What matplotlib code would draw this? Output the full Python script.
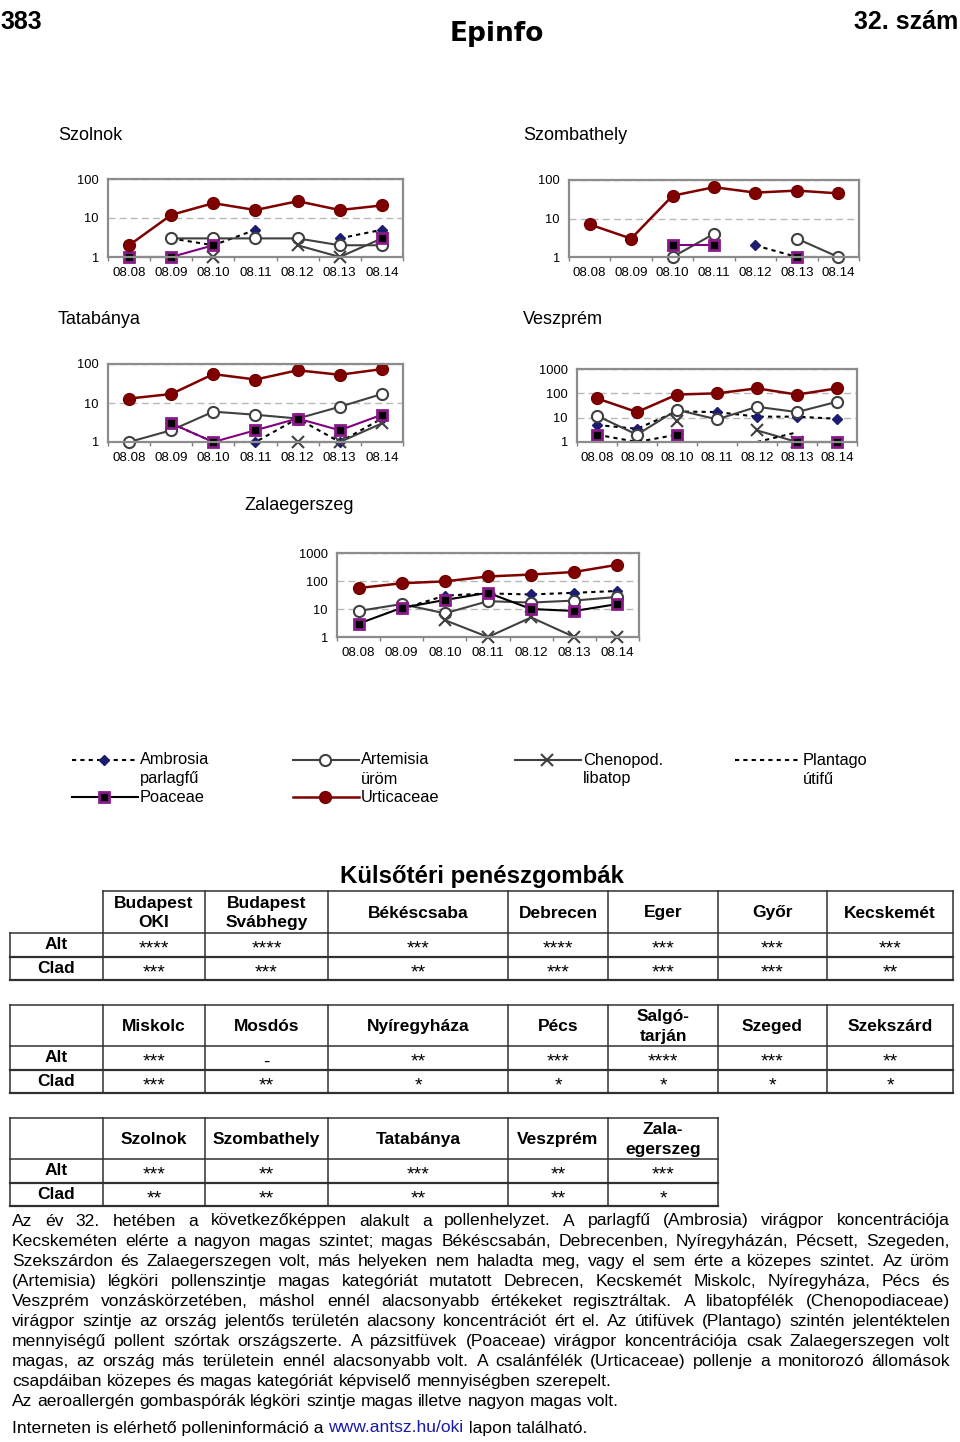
import numpy as np
import matplotlib
matplotlib.use('Agg')
import matplotlib.pyplot as plt
from matplotlib.ticker import NullLocator, FixedLocator

plt.rcParams['font.family'] = ['Liberation Sans', 'DejaVu Sans']

W, H = 960, 1442
nan = np.nan

# ---- data -------------------------------------------------------------
dates = ['08.08', '08.09', '08.10', '08.11', '08.12', '08.13', '08.14']
stations = ['Szolnok', 'Szombathely', 'Tatabánya', 'Veszprém', 'Zalaegerszeg']
taxa = ['Ambrosia', 'Artemisia', 'Chenopod', 'Plantago', 'Poaceae', 'Urticaceae']

# one row per station, in the order of `stations` (nan = no value)
ambrosia = [
    [nan, 3, 2, 5, nan, 3, 5],
    [nan, nan, nan, nan, 2, 1, 1],
    [nan, 3, 1, 1, 4, 1, 4],
    [5, 3.5, 18, 17, 11, 11, 9],
    [nan, 10, 30, 36, 33, 38, 44],
]
artemisia = [
    [nan, 3, 3, 3, 3, 2, 2],
    [nan, nan, 1, 4, nan, 3, 1],
    [1, 2, 6, 5, 4, 8, 17],
    [12, 2, 21, 8.5, 28, 17, 45],
    [8.5, 15, 7, 19, 17, 20, 27],
]
chenopod = [
    [nan, nan, 1, nan, 2, 1, 3],
    [nan] * 7,
    [nan, nan, nan, nan, 1, 1, 3],
    [nan, nan, 7, nan, 3, 1, nan],
    [nan, nan, 4, 1, 5, 1, 1],
]
plantago = [
    [nan] * 7,
    [nan] * 7,
    [nan] * 7,
    [2, 1, 2, nan, 1, 2.5, nan],
    [nan] * 7,
]
poaceae = [
    [1, 1, 2, nan, nan, nan, 3],
    [nan, nan, 2, 2, nan, 1, nan],
    [nan, 3, 1, 2, 4, 2, 5],
    [2, nan, 2, nan, nan, 1, 1],
    [3, 11, 21, 38, 10, 8.5, 15],
]
urticaceae = [
    [2, 12, 24, 16, 27, 16, 21],
    [7, 3, 39, 65, 47, 53, 45],
    [13, 17, 55, 40, 69, 53, 74],
    [62, 17, 89, 100, 160, 89, 160],
    [56, 83, 97, 145, 170, 210, 380],
]
series = dict(zip(taxa, [ambrosia, artemisia, chenopod, plantago, poaceae, urticaceae]))

legend_names = ['Ambrosia', 'Artemisia', 'Chenopod.', 'Plantago', 'Poaceae', 'Urticaceae']
legend_hu = ['parlagfű', 'üröm', 'libatop', 'útifű', '', '']

table1_cols = ['Budapest\nOKI', 'Budapest\nSvábhegy', 'Békéscsaba', 'Debrecen', 'Eger', 'Győr', 'Kecskemét']
table1_alt = ['****', '****', '***', '****', '***', '***', '***']
table1_clad = ['***', '***', '**', '***', '***', '***', '**']
table2_cols = ['Miskolc', 'Mosdós', 'Nyíregyháza', 'Pécs', 'Salgó-\ntarján', 'Szeged', 'Szekszárd']
table2_alt = ['***', '-', '**', '***', '****', '***', '**']
table2_clad = ['***', '**', '*', '*', '*', '*', '*']
table3_cols = ['Szolnok', 'Szombathely', 'Tatabánya', 'Veszprém', 'Zala-\negerszeg']
table3_alt = ['***', '**', '***', '**', '***']
table3_clad = ['**', '**', '**', '**', '*']

paragraph = [
    ("Az év 32. hetében a következőképpen alakult a pollenhelyzet. A parlagfű (Ambrosia) virágpor koncentrációja", True),
    ("Kecskeméten elérte a nagyon magas szintet; magas Békéscsabán, Debrecenben, Nyíregyházán, Pécsett, Szegeden,", True),
    ("Szekszárdon és Zalaegerszegen volt, más helyeken nem haladta meg, vagy el sem érte a közepes szintet. Az üröm", True),
    ("(Artemisia) légköri pollenszintje magas kategóriát mutatott Debrecen, Kecskemét Miskolc, Nyíregyháza, Pécs és", True),
    ("Veszprém vonzáskörzetében, máshol ennél alacsonyabb értékeket regisztráltak. A libatopfélék (Chenopodiaceae)", True),
    ("virágpor szintje az ország jelentős területén alacsony koncentrációt ért el. Az útifüvek (Plantago) szintén jelentéktelen", True),
    ("mennyiségű pollent szórtak országszerte. A pázsitfüvek (Poaceae) virágpor koncentrációja csak Zalaegerszegen volt", True),
    ("magas, az ország más területein ennél alacsonyabb volt. A csalánfélék (Urticaceae) pollenje a monitorozó állomások", True),
    ("csapdáiban közepes és magas kategóriát képviselő mennyiségben szerepelt.", False),
    ("Az aeroallergén gombaspórák légköri szintje magas illetve nagyon magas volt.", False),
]

# ---- styles / layout ---------------------------------------------------
DOT = (0, (2, 2))
styles = {
    'Ambrosia': dict(color='black', ls=DOT, lw=1.5, marker='D', ms=5.5, mfc='#1c1c70', mec='#1c1c70'),
    'Artemisia': dict(color='#404040', ls='-', lw=1.5, marker='o', ms=8, mfc='white', mec='#404040', mew=1.5),
    'Chenopod': dict(color='#404040', ls='-', lw=1.5, marker='x', ms=8, mec='#404040', mew=1.5),
    'Plantago': dict(color='black', ls=DOT, lw=1.5),
    'Poaceae': dict(color='#800080', ls='-', lw=1.5, marker='s', ms=7, mfc='black', mec='#8a1a8a', mew=2),
    'Urticaceae': dict(color='#800000', ls='-', lw=1.8, marker='o', ms=8.5, mfc='#800000', mec='#700000'),
}
poaceae_line = ['#800080', '#800080', '#800080', 'black', 'black']

# plot-area boxes in pixels (left, top, right, bottom), y max, title position
boxes = [(108, 179, 403, 257), (569, 180, 859, 257), (108, 364, 403, 442),
         (577, 369, 857, 442), (337, 553, 639, 637)]
ymaxes = [100, 100, 100, 1000, 1000]
title_pos = [(58, 135), (523, 135), (58, 320), (523, 320), (244, 505)]

fig = plt.figure(figsize=(W / 100, H / 100), dpi=100)
page = fig.add_axes([0, 0, 1, 1])
page.set_xlim(0, W)
page.set_ylim(H, 0)
page.axis('off')


def px_axes(l, t, r, b):
    return fig.add_axes([l / W, 1 - b / H, (r - l) / W, (b - t) / H])


# ---- header ------------------------------------------------------------
page.text(0, 22, '383', fontsize=18, fontweight='bold', va='center', ha='left')
page.text(958, 22, '32. szám', fontsize=18, fontweight='bold', va='center', ha='right')
page.text(497, 34, 'Epinfo', fontsize=19, fontweight='bold', va='center', ha='center',
          family=['DejaVu Sans'])

# ---- charts ------------------------------------------------------------
x = np.arange(len(dates))
for i, st in enumerate(stations):
    ax = px_axes(*boxes[i])
    for taxon in taxa:
        kw = dict(styles[taxon])
        if taxon == 'Poaceae':
            kw['color'] = poaceae_line[i]
        ax.plot(x, np.array(series[taxon][i], float), clip_on=False, **kw)
    ax.set_yscale('log')
    ax.set_ylim(1, ymaxes[i])
    ax.set_xlim(-0.5, len(dates) - 0.5)
    yt = [10 ** k for k in range(int(np.log10(ymaxes[i])) + 1)]
    ax.yaxis.set_major_locator(FixedLocator(yt))
    ax.yaxis.set_minor_locator(NullLocator())
    ax.set_yticklabels([str(v) for v in yt])
    ax.set_xticks(x)
    ax.set_xticklabels(dates)
    ax.set_xticks(np.arange(len(dates) + 1) - 0.5, minor=True)
    ax.tick_params(axis='y', length=0, pad=6.5, labelsize=9.3)
    ax.tick_params(axis='x', which='major', length=0, pad=7.5, labelsize=9.6)
    ax.tick_params(axis='x', which='minor', length=3, color='#808080', width=1)
    ax.yaxis.grid(True, ls=(0, (5, 3)), color='#b8b8b8', lw=1)
    ax.set_axisbelow(True)
    for sp in ax.spines.values():
        sp.set_color('#8c8c8c')
        sp.set_linewidth(1.6)
    page.text(title_pos[i][0], title_pos[i][1], st, fontsize=13, va='center')

# ---- legend ------------------------------------------------------------
leg_x = [72, 293, 515, 735, 72, 293]
leg_y = [760, 760, 760, 760, 797, 797]
for k, taxon in enumerate(taxa):
    kw = dict(styles[taxon])
    if taxon == 'Poaceae':
        kw['color'] = 'black'
    marker_kw = {kk: v for kk, v in kw.items() if kk in ('marker', 'ms', 'mfc', 'mec', 'mew')}
    line_kw = {kk: v for kk, v in kw.items() if kk in ('color', 'ls', 'lw')}
    x0, y0 = leg_x[k], leg_y[k]
    page.plot([x0, x0 + 66], [y0, y0], **line_kw)
    if marker_kw:
        page.plot([x0 + 32], [y0], ls='none', **marker_kw)
    page.text(x0 + 68, y0, legend_names[k], fontsize=11.8, va='center')
    if legend_hu[k]:
        page.text(x0 + 68, y0 + 19, legend_hu[k], fontsize=11.8, va='center')

# ---- tables ------------------------------------------------------------
LC = '#303030'


def draw_table(cols_x, top, hb, rh, headers, alt, clad, open_corner=False):
    r1, r2 = hb + rh, hb + 2 * rh
    page.plot([cols_x[1] if open_corner else cols_x[0], cols_x[-1]], [top, top], color=LC, lw=1.1)
    page.plot([cols_x[0], cols_x[-1]], [hb, hb], color=LC, lw=1.1)
    page.plot([cols_x[0], cols_x[-1]], [r1, r1], color=LC, lw=1.6)
    page.plot([cols_x[0], cols_x[-1]], [r2, r2], color=LC, lw=1.6)
    for j, cx in enumerate(cols_x):
        y_start = hb if (open_corner and j == 0) else top
        page.plot([cx, cx], [y_start, r2], color=LC, lw=1.1)
    lab_x = (cols_x[0] + cols_x[1]) / 2
    page.text(lab_x, (hb + r1) / 2, 'Alt', fontsize=12.5, fontweight='bold', ha='center', va='center')
    page.text(lab_x, (r1 + r2) / 2, 'Clad', fontsize=12.5, fontweight='bold', ha='center', va='center')
    for j, name in enumerate(headers):
        cx = (cols_x[j + 1] + cols_x[j + 2]) / 2
        page.text(cx, (top + hb) / 2 + 1, name, fontsize=12.5, fontweight='bold', ha='center',
                  va='center', linespacing=1.4)
        page.text(cx, (hb + r1) / 2 + 9, alt[j], fontsize=14, ha='center', va='baseline')
        page.text(cx, (r1 + r2) / 2 + 9, clad[j], fontsize=14, ha='center', va='baseline')


cols_big = [10, 103, 205, 328, 508, 608, 718, 827, 953]
cols_small = [10, 103, 205, 328, 508, 608, 718]
page.text(482, 877, 'Külsőtéri penészgombák', fontsize=17.3, fontweight='bold', ha='center', va='center')
draw_table(cols_big, 891, 933, 23.5, table1_cols, table1_alt, table1_clad, open_corner=True)
draw_table(cols_big, 1005, 1046, 23.5, table2_cols, table2_alt, table2_clad)
draw_table(cols_small, 1118, 1159, 23.5, table3_cols, table3_alt, table3_clad)

# ---- body text (justified) --------------------------------------------
renderer = fig.canvas.get_renderer()
FS = 12.6


def text_width(s):
    t = page.text(0, 0, s, fontsize=FS)
    w = t.get_window_extent(renderer).width
    t.remove()
    return w


space_w = text_width('a a') - text_width('aa')
left, right = 12, 950
for k, (line, full) in enumerate(paragraph):
    y = 1221 + k * 20.1
    words = line.split()
    objs = [page.text(0, y, wd, fontsize=FS, va='center') for wd in words]
    widths = [o.get_window_extent(renderer).width for o in objs]
    gap = (right - left - sum(widths)) / (len(words) - 1) if full else space_w
    xx = left
    for o, w in zip(objs, widths):
        o.set_x(xx)
        xx += w + gap

xx = left
for part, col in [('Interneten is elérhető polleninformáció a ', 'black'),
                  ('www.antsz.hu/oki', '#1a1aa8'), (' lapon található.', 'black')]:
    t = page.text(xx, 1428, part, fontsize=FS, va='center', color=col)
    xx += t.get_window_extent(renderer).width

fig.savefig('out.png', dpi=100)
